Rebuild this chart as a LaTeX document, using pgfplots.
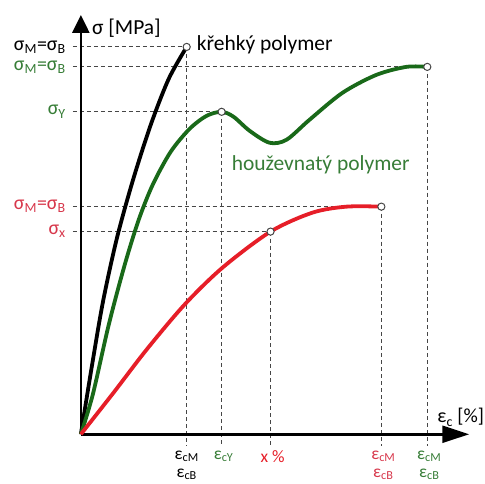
\documentclass[border=0pt]{standalone}
\usepackage{pgfplots}
\pgfplotsset{compat=1.18}
\usepackage{fontspec}
\setmainfont{Carlito}
\usetikzlibrary{arrows.meta}
\definecolor{dgreen}{RGB}{25,105,25}
\definecolor{tgreen}{RGB}{55,125,55}
\definecolor{cred}{RGB}{230,30,40}
\definecolor{tred}{RGB}{215,55,75}
\definecolor{dgray}{RGB}{70,70,70}
\newcommand{\sub}[1]{\textsubscript{#1}}
\tikzset{lb/.style={font=\fontsize{20}{24}\selectfont, inner sep=1pt},
         bt/.style={font=\fontsize{17.5}{20}\selectfont, inner sep=0pt},
         big/.style={font=\fontsize{21.5}{25}\selectfont, inner sep=1pt}}
\begin{document}
\begin{tikzpicture}
\begin{axis}[
  scale only axis, width=485pt, height=484pt,
  xmin=-81, xmax=404, ymin=-49, ymax=435,
  axis lines=none, clip=false,
]
\path (axis cs:-81,-49) rectangle (axis cs:404,435);
% dashed guide lines
\addplot[dgray, line width=1.1pt, dash pattern=on 4pt off 3pt] coordinates {(-8,388)(106,388)};
\addplot[dgray, line width=1.1pt, dash pattern=on 4pt off 3pt] coordinates {(-8,368)(347,368)};
\addplot[dgray, line width=1.1pt, dash pattern=on 4pt off 3pt] coordinates {(-8,323)(141,323)};
\addplot[dgray, line width=1.1pt, dash pattern=on 4pt off 3pt] coordinates {(-8,228)(301,228)};
\addplot[dgray, line width=1.1pt, dash pattern=on 4pt off 3pt] coordinates {(-8,203)(190,203)};
\addplot[dgray, line width=1.1pt, dash pattern=on 4pt off 3pt] coordinates {(106,388)(106,-12)};
\addplot[dgray, line width=1.1pt, dash pattern=on 4pt off 3pt] coordinates {(141,323)(141,-12)};
\addplot[dgray, line width=1.1pt, dash pattern=on 4pt off 3pt] coordinates {(190,203)(190,-12)};
\addplot[dgray, line width=1.1pt, dash pattern=on 4pt off 3pt] coordinates {(301,228)(301,-12)};
\addplot[dgray, line width=1.1pt, dash pattern=on 4pt off 3pt] coordinates {(347,368)(347,-12)};
% axes
\draw[line width=2.5pt, -{Triangle[length=18pt,width=17pt]}] (axis cs:0,0) -- (axis cs:0,420);
\draw[line width=2.5pt, -{Triangle[length=27pt,width=17pt]}] (axis cs:0,0) -- (axis cs:389,0);
% curves
\addplot[black, line width=3.8pt, smooth] coordinates {(0,0)(10,62)(22,132)(36,196)(52,254)(70,310)(88,356)(106,388)};
\addplot[dgreen, line width=3.8pt, smooth] coordinates {(0,0)(12,40)(28,110)(44,170)(58,215)(72,250)(90,283)(109,306)(126,319)(141,323)(153,318)(169,304)(189,292)(206,295)(229,315)(262,342)(296,360)(326,368)(347,368)};
\addplot[cred, line width=3.8pt, smooth] coordinates {(0,0)(33,42)(66,85)(104,130)(142,167)(190,203)(232,222)(266,228)(301,228)};
% points
\addplot[only marks, mark=*, mark size=3.6pt, mark options={fill=white, draw=dgray, line width=1pt}] coordinates {(106,388)(347,368)(141,323)(301,228)(190,203)};
% labels
\node[big, anchor=west] at (axis cs:10,407) {σ [MPa]};
\node[big, anchor=west] at (axis cs:115,390) {křehký polymer};
\node[big, anchor=west, text=tgreen] at (axis cs:150,270) {houževnatý polymer};
\node[lb, anchor=east] at (axis cs:-14,388) {σ\sub{M}=σ\sub{B}};
\node[lb, anchor=east, text=tgreen] at (axis cs:-14,368) {σ\sub{M}=σ\sub{B}};
\node[lb, anchor=east, text=tgreen] at (axis cs:-14,323) {σ\sub{Y}};
\node[lb, anchor=east, text=tred] at (axis cs:-14,228) {σ\sub{M}=σ\sub{B}};
\node[lb, anchor=east, text=tred] at (axis cs:-14,203) {σ\sub{x}};
\node[bt] at (axis cs:106,-22) {ε\sub{cM}};
\node[bt] at (axis cs:106,-40) {ε\sub{cB}};
\node[bt, text=tgreen] at (axis cs:143,-22) {ε\sub{cY}};
\node[bt, text=cred] at (axis cs:192,-22) {x \%};
\node[bt, text=tred] at (axis cs:303,-22) {ε\sub{cM}};
\node[bt, text=tred] at (axis cs:303,-40) {ε\sub{cB}};
\node[bt, text=tgreen] at (axis cs:349,-22) {ε\sub{cM}};
\node[bt, text=tgreen] at (axis cs:349,-40) {ε\sub{cB}};
\node[lb, anchor=west] at (axis cs:356,17) {ε\sub{c} [\%]};
\end{axis}
\end{tikzpicture}
\end{document}
